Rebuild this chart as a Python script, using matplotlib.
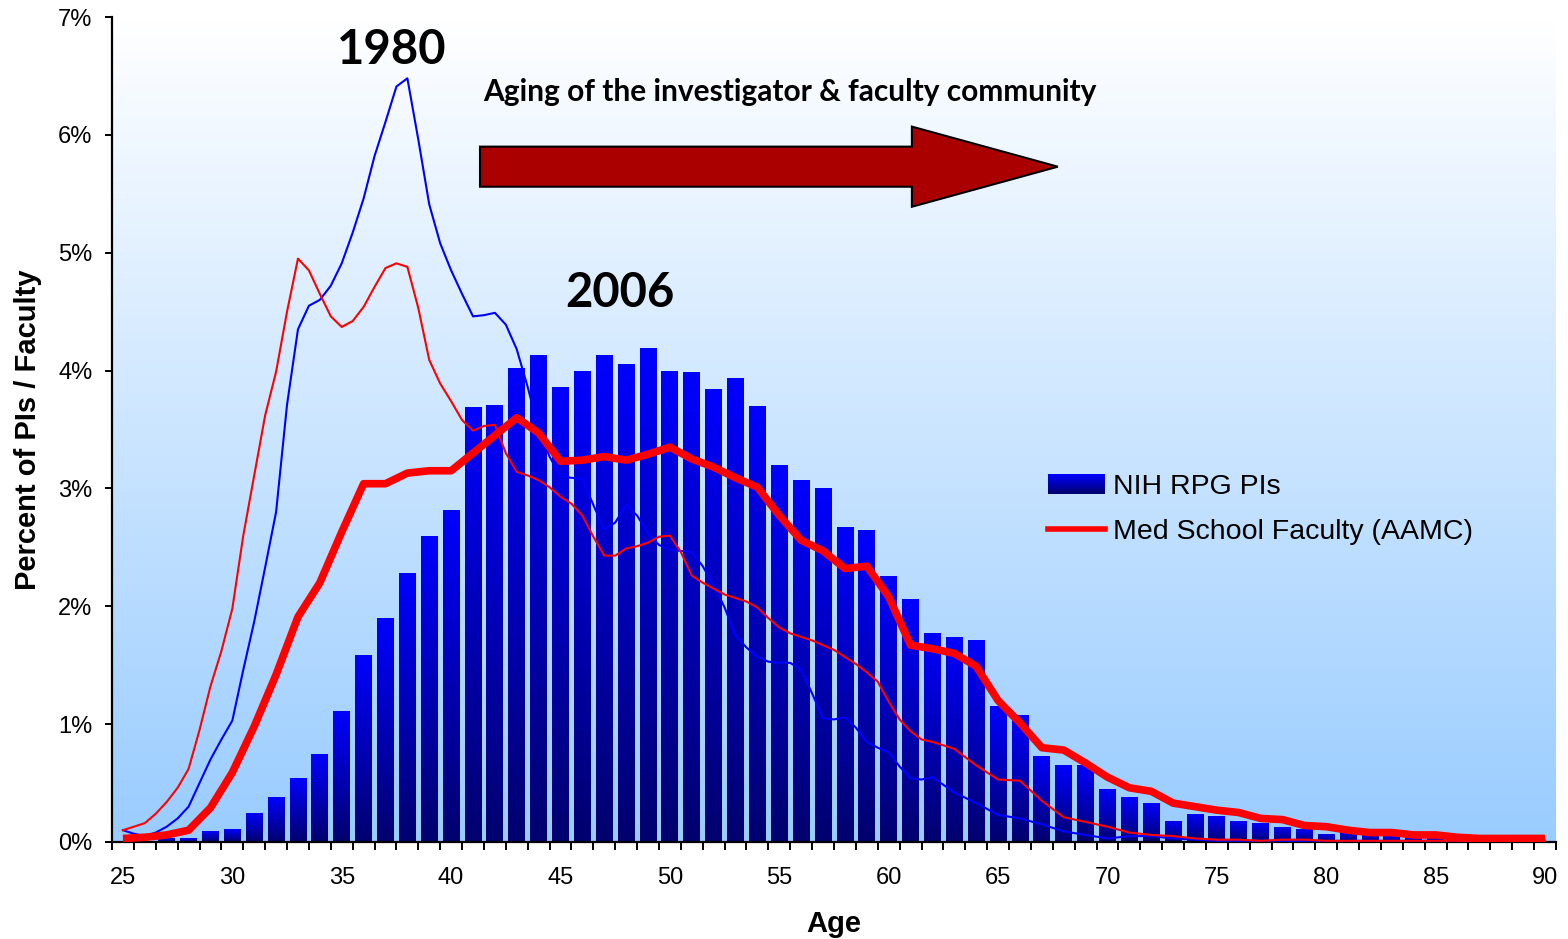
import numpy as np
import matplotlib
matplotlib.use("Agg")
import matplotlib.pyplot as plt
from matplotlib.colors import LinearSegmentedColormap
from matplotlib.patches import Rectangle, FancyArrow
from matplotlib.lines import Line2D
from matplotlib.legend_handler import HandlerBase

# ---- data (percent of PIs / faculty by age) ----
ages = np.arange(25, 91)

nih_2006 = [0, 0, 0.03, 0.03, 0.09, 0.11, 0.25, 0.38, 0.54, 0.75,
            1.11, 1.59, 1.90, 2.28, 2.60, 2.82, 3.69, 3.71, 4.02, 4.13,
            3.86, 4.00, 4.13, 4.06, 4.19, 4.00, 3.99, 3.84, 3.94, 3.70,
            3.20, 3.07, 3.00, 2.67, 2.65, 2.26, 2.06, 1.77, 1.74, 1.71,
            1.15, 1.08, 0.73, 0.65, 0.65, 0.45, 0.38, 0.33, 0.18, 0.24,
            0.22, 0.18, 0.16, 0.13, 0.11, 0.07, 0.09, 0.06, 0.05, 0.03,
            0.03, 0, 0, 0, 0, 0]

aamc_2006 = [0.03, 0.04, 0.06, 0.10, 0.29, 0.59, 0.98, 1.42, 1.91, 2.20,
             2.63, 3.04, 3.04, 3.13, 3.15, 3.15, 3.30, 3.45, 3.60, 3.47,
             3.23, 3.24, 3.27, 3.24, 3.29, 3.35, 3.25, 3.18, 3.09, 3.01,
             2.77, 2.56, 2.47, 2.32, 2.34, 2.08, 1.67, 1.64, 1.60, 1.49,
             1.20, 1.01, 0.80, 0.78, 0.67, 0.55, 0.46, 0.43, 0.33, 0.30,
             0.27, 0.25, 0.20, 0.19, 0.14, 0.13, 0.10, 0.08, 0.08, 0.06,
             0.06, 0.04, 0.03, 0.03, 0.03, 0.03]

# 1980 curves are read every half year up to 62, then yearly
ages_1980 = np.concatenate([np.arange(25, 62.5, 0.5), np.arange(63, 91)])

nih_1980 = [0.10, 0.07, 0.05, 0.08, 0.13, 0.20, 0.30, 0.50, 0.70, 0.87,
            1.03, 1.46, 1.87, 2.33, 2.80, 3.71, 4.35, 4.55, 4.60, 4.72,
            4.91, 5.17, 5.46, 5.82, 6.11, 6.41, 6.48, 5.96, 5.41, 5.08,
            4.85, 4.65, 4.46, 4.47, 4.49, 4.39, 4.18, 3.86, 3.50, 3.27,
            3.10, 3.09, 3.08, 2.86, 2.65, 2.71, 2.86, 2.77, 2.62, 2.52,
            2.48, 2.47, 2.46, 2.34, 2.18, 1.99, 1.75, 1.65, 1.57, 1.53,
            1.52, 1.52, 1.46, 1.26, 1.05, 1.04, 1.06, 0.97, 0.85, 0.80,
            0.76, 0.64, 0.54, 0.53, 0.55,
            0.42, 0.33, 0.23, 0.20, 0.15, 0.09, 0.06, 0.03, 0.05, 0.05,
            0.03, 0.02, 0.01, 0.01, 0.01, 0.01, 0.01, 0.01, 0.01, 0.01,
            0.01, 0.01, 0.01, 0.01, 0.01, 0.01, 0.01, 0.01]

aamc_1980 = [0.10, 0.13, 0.16, 0.24, 0.34, 0.46, 0.62, 0.95, 1.32, 1.62,
             1.98, 2.60, 3.11, 3.62, 3.99, 4.50, 4.95, 4.85, 4.65, 4.46,
             4.37, 4.42, 4.54, 4.71, 4.87, 4.91, 4.88, 4.53, 4.09, 3.89,
             3.74, 3.58, 3.49, 3.53, 3.54, 3.30, 3.14, 3.11, 3.07, 3.01,
             2.93, 2.87, 2.77, 2.59, 2.43, 2.43, 2.49, 2.51, 2.54, 2.59,
             2.60, 2.46, 2.26, 2.20, 2.15, 2.10, 2.07, 2.04, 1.99, 1.90,
             1.82, 1.77, 1.74, 1.71, 1.67, 1.63, 1.57, 1.51, 1.44, 1.36,
             1.19, 1.04, 0.94, 0.87, 0.85,
             0.79, 0.65, 0.53, 0.52, 0.35, 0.21, 0.17, 0.13, 0.08, 0.06,
             0.05, 0.03, 0.02, 0.02, 0.01, 0.02, 0.02, 0.01, 0.01, 0.01,
             0.01, 0.01, 0.01, 0.01, 0.01, 0.01, 0.01, 0.01]

tick_ages = np.arange(25, 91, 5)

plt.rcParams['font.family'] = ['Liberation Sans', 'DejaVu Sans']

bar_cmap = LinearSegmentedColormap.from_list('bar', ['#00006E', '#0000FF'])
bg_cmap = LinearSegmentedColormap.from_list('bg', ['#99CCFF', '#FFFFFF'])

fig = plt.figure(figsize=(15.68, 9.39), dpi=100)
ax = fig.add_axes([112 / 1568, 97 / 939, 1444 / 1568, 825 / 939])

# plot area background gradient
ax.imshow(np.linspace(0, 1, 256).reshape(-1, 1), extent=[24.5, 90.5, 0, 7],
          cmap=bg_cmap, aspect='auto', origin='lower', zorder=0)

# bars with vertical gradient
bars = ax.bar(ages, nih_2006, width=0.77, color='none', edgecolor='none', zorder=2)
grad = np.linspace(0, 1, 100).reshape(-1, 1)
for b in bars:
    h = b.get_height()
    if h <= 0:
        continue
    x0 = b.get_x()
    im = ax.imshow(grad, extent=[x0, x0 + b.get_width(), 0, h], cmap=bar_cmap,
                   aspect='auto', origin='lower', zorder=2)
    im.set_clip_path(b)

ax.plot(ages_1980, nih_1980, color='#0000FF', lw=1.5, zorder=3, solid_joinstyle='round')
ax.plot(ages_1980, aamc_1980, color='#FF0000', lw=1.5, zorder=3, solid_joinstyle='round')
ax.plot(ages, aamc_2006, color='#FF0000', lw=5.5, zorder=4,
        solid_capstyle='butt', solid_joinstyle='round')

ax.set_xlim(24.5, 90.5)
ax.set_ylim(0, 7)

# axes styling
for s in ['top', 'right']:
    ax.spines[s].set_visible(False)
for s in ['left', 'bottom']:
    ax.spines[s].set_linewidth(1.6)
ax.set_xticks(tick_ages)
ax.set_xticklabels([str(a) for a in tick_ages])
ax.set_xticks(np.arange(24.5, 91, 1), minor=True)
ax.tick_params(axis='x', which='major', length=0, pad=18, labelsize=17)
ax.tick_params(axis='x', which='minor', length=6, width=1.4, direction='out')
ax.set_yticks(np.arange(0, 8))
ax.set_yticklabels(['%d%%' % v for v in range(8)])
ax.tick_params(axis='y', length=5, width=1.4, pad=9, labelsize=17)

ax.set_xlabel('Age', fontsize=21, fontweight='bold', labelpad=15)
ax.set_ylabel('Percent of PIs / Faculty', fontsize=21, fontweight='bold', labelpad=12)

# annotations
ax.text(37.3, 6.72, '1980', family='Lato', fontweight='bold', fontsize=34,
        ha='center', va='center', zorder=5)
ax.text(47.7, 4.66, '2006', family='Lato', fontweight='bold', fontsize=34,
        ha='center', va='center', zorder=5)
ax.text(41.45, 6.36, 'Aging of the investigator & faculty community', family='Lato',
        fontweight='bold', fontsize=21.5, ha='left', va='center', zorder=5)
ax.add_patch(FancyArrow(41.32, 5.73, 26.41, 0, width=0.34, head_width=0.68,
                        head_length=6.67, length_includes_head=True,
                        facecolor='#AA0000', edgecolor='black', lw=1.5, zorder=5))


class GradientHandler(HandlerBase):
    def create_artists(self, legend, orig_handle, xdescent, ydescent,
                       width, height, fontsize, trans):
        n = 16
        out = []
        for i in range(n):
            out.append(Rectangle((-xdescent, -ydescent + height * i / n), width,
                                 height / n * 1.05, facecolor=bar_cmap(i / (n - 1)),
                                 edgecolor='none', transform=trans))
        return out


bar_handle = Rectangle((0, 0), 1, 1)
line_handle = Line2D([0], [0], color='#FF0000', lw=4)
ax.legend([bar_handle, line_handle], ['NIH RPG PIs', 'Med School Faculty (AAMC)'],
          handler_map={Rectangle: GradientHandler()},
          loc='center left', bbox_to_anchor=(0.648, 0.403), frameon=False,
          fontsize=20.5, handlelength=2.0, handleheight=0.7, handletextpad=0.3,
          labelspacing=0.68, borderpad=0, borderaxespad=0)

fig.savefig('out.png', dpi=100)
